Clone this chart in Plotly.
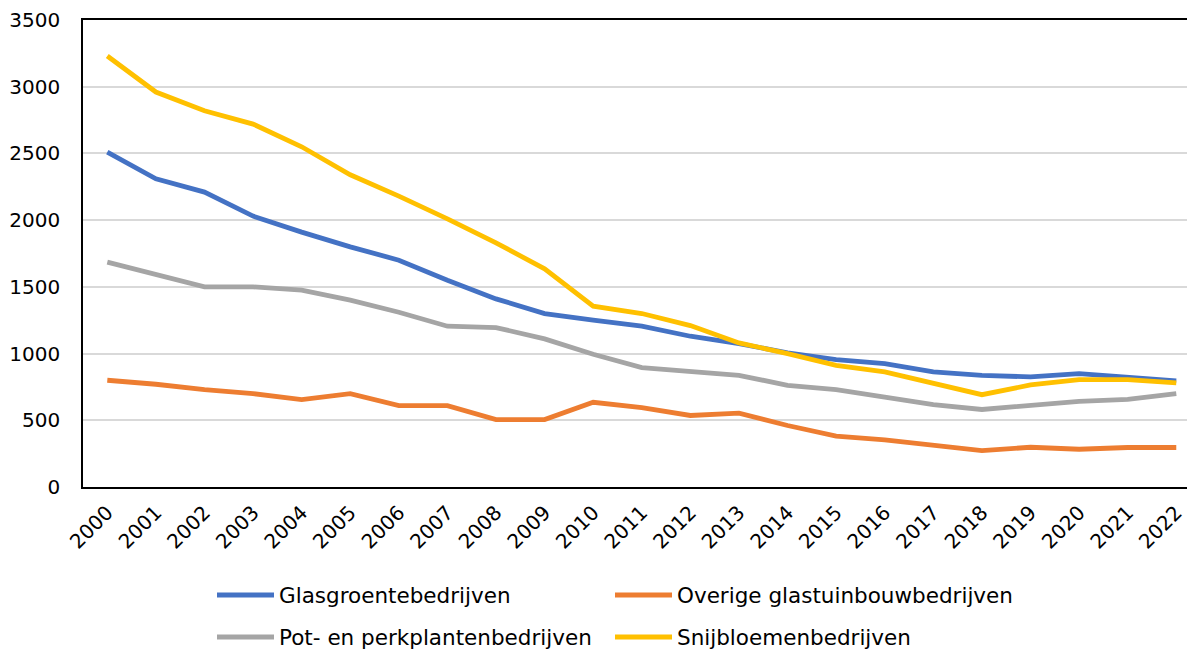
import plotly.graph_objects as go

years = [str(y) for y in range(2000, 2023)]
glasgroente = [2510, 2310, 2210, 2030, 1910, 1800, 1700, 1550, 1410, 1300, 1250,
               1205, 1130, 1075, 1005, 955, 925, 862, 837, 825, 850, 825, 795]
overige = [800, 770, 730, 700, 655, 700, 610, 610, 505, 505, 635,
           594, 536, 554, 461, 381, 353, 311, 273, 298, 283, 296, 296]
pot_perk = [1685, 1590, 1500, 1500, 1475, 1400, 1310, 1205, 1195, 1110, 995,
            895, 862, 837, 762, 729, 674, 617, 581, 612, 642, 657, 699]
snijbloemen = [3230, 2960, 2820, 2720, 2550, 2340, 2180, 2010, 1830, 1635, 1355,
               1300, 1210, 1080, 1000, 912, 862, 775, 692, 765, 805, 805, 780]

FONT = "DejaVu Sans, Verdana, sans-serif"
W, H = 1195, 650

# (name, values, colour, legend id, legend x px, legend y px)
series = [
    ("Glasgroentebedrijven", glasgroente, "#4472C4", "legend", 204, 587),
    ("Overige glastuinbouwbedrijven", overige, "#ED7D31", "legend2", 602, 587),
    ("Pot- en perkplantenbedrijven", pot_perk, "#A5A5A5", "legend3", 204, 629),
    ("Snijbloemenbedrijven", snijbloemen, "#FFC000", "legend4", 602, 629),
]

fig = go.Figure()
legends = {}
for name, vals, color, lg, lx, ly in series:
    fig.add_trace(go.Scatter(x=years, y=vals, name=name, mode="lines",
                             line=dict(color=color, width=4.8), legend=lg,
                             showlegend=True))
    legends[lg] = dict(orientation="h", xref="container", yref="container",
                       x=lx / W, y=1 - ly / H, xanchor="left", yanchor="middle",
                       font=dict(family=FONT, size=21.5, color="#000"),
                       bgcolor="rgba(0,0,0,0)", itemwidth=57, visible=True)

fig.update_layout(
    width=W, height=H, showlegend=True,
    margin=dict(l=75, r=0, t=12, b=171, autoexpand=False),
    paper_bgcolor="white", plot_bgcolor="white",
    font=dict(family=FONT, size=20, color="#000"),
    xaxis=dict(type="category", range=[-0.5, 22.55], showgrid=False,
               showline=True, mirror=True, linecolor="#000", linewidth=2,
               tickangle=-45, ticks="", ticklabelstandoff=4, automargin=False,
               tickfont=dict(family=FONT, size=20, color="#000")),
    yaxis=dict(range=[0, 3500], dtick=500, showgrid=True, gridcolor="#D9D9D9",
               gridwidth=1.5, showline=True, mirror=False, linecolor="#000",
               linewidth=1.5, ticks="", ticklabelstandoff=17, zeroline=False,
               automargin=False,
               tickfont=dict(family=FONT, size=20, color="#000")),
    **legends,
)

fig.write_html("out.html")
